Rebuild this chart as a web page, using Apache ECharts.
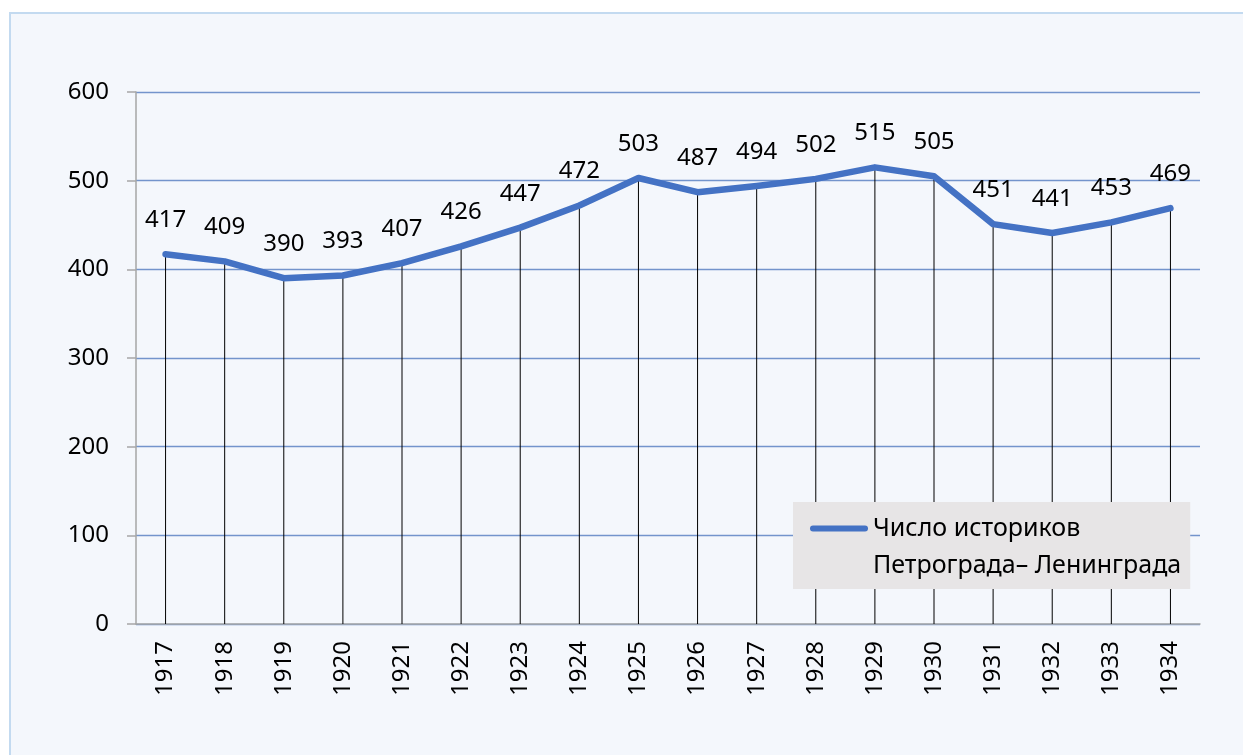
<!DOCTYPE html>
<html>
<head>
<meta charset="utf-8">
<script src="https://cdn.jsdelivr.net/npm/echarts@6/dist/echarts.min.js"></script>
<style>
html,body{margin:0;padding:0;width:1243px;height:755px;overflow:hidden;background:#fff;}
#frame{position:absolute;left:9px;top:12px;width:1300px;height:800px;border:2px solid #c3daf0;background:#f4f7fc;}
#chart{position:absolute;left:0;top:0;width:1243px;height:755px;}
</style>
</head>
<body>
<div id="frame"></div>
<div id="chart"></div>
<script>
const years = ['1917','1918','1919','1920','1921','1922','1923','1924','1925','1926','1927','1928','1929','1930','1931','1932','1933','1934'];
const historians = [417,409,390,393,407,426,447,472,503,487,494,502,515,505,451,441,453,469];
const yTicks = {min:0, max:600, interval:100};
const seriesName = 'Число историков Петрограда– Ленинграда';

const FONT = 'Noto Sans';
const FS = 24;
const chart = echarts.init(document.getElementById('chart'), null, {renderer:'canvas'});
chart.setOption({
  backgroundColor:'transparent',
  animation:false,
  textStyle:{fontFamily:FONT},
  grid:{left:136,right:43,top:92,bottom:131,containLabel:false},
  xAxis:{
    type:'category',
    data:years,
    boundaryGap:true,
    axisLine:{show:true,lineStyle:{color:'#a6a6a6',width:1.5}},
    axisTick:{show:false},
    axisLabel:{rotate:90,color:'#000',fontSize:FS,fontFamily:FONT,margin:17},
    splitLine:{show:false}
  },
  yAxis:{
    type:'value',
    min:yTicks.min,max:yTicks.max,interval:yTicks.interval,
    axisLine:{show:true,lineStyle:{color:'#a6a6a6',width:1.5}},
    axisTick:{show:true,length:9,lineStyle:{color:'#a6a6a6',width:1.5}},
    axisLabel:{color:'#000',fontSize:FS,fontFamily:FONT,margin:27},
    splitLine:{show:true,lineStyle:{color:'#7394cc',width:1.3}}
  },
  legend:{
    show:true,
    left:793,top:502,
    orient:'vertical',
    backgroundColor:'#e7e5e6',
    padding:[14,9,11,12],
    icon:'none',
    itemWidth:0,itemHeight:0,
    selectedMode:false,
    data:[seriesName],
    formatter:function(){
      return '{l| }{t|Число историков}\n{s| }{t|Петрограда– Ленинграда}';
    },
    textStyle:{
      color:'#000',fontSize:25,fontFamily:FONT,
      rich:{
        l:{width:58,height:6,backgroundColor:'#4472c4',borderRadius:3},
        s:{width:58,height:6},
        t:{fontSize:25,fontFamily:FONT,color:'#000',lineHeight:37,padding:[0,0,0,5]}
      }
    }
  },
  series:[
    {
      name:'drop',
      type:'bar',
      data:historians,
      barWidth:1,
      itemStyle:{color:'#000'},
      silent:true,
      z:1
    },
    {
      name:seriesName,
      type:'line',
      data:historians,
      showSymbol:true,
      symbol:'circle',
      symbolSize:2,
      itemStyle:{color:'#4472c4'},
      lineStyle:{color:'#4472c4',width:6.5,cap:'round',join:'round'},
      label:{show:true,position:'top',distance:21,color:'#000',fontSize:FS,fontFamily:FONT},
      z:3
    }
  ]
});
</script>
</body>
</html>
